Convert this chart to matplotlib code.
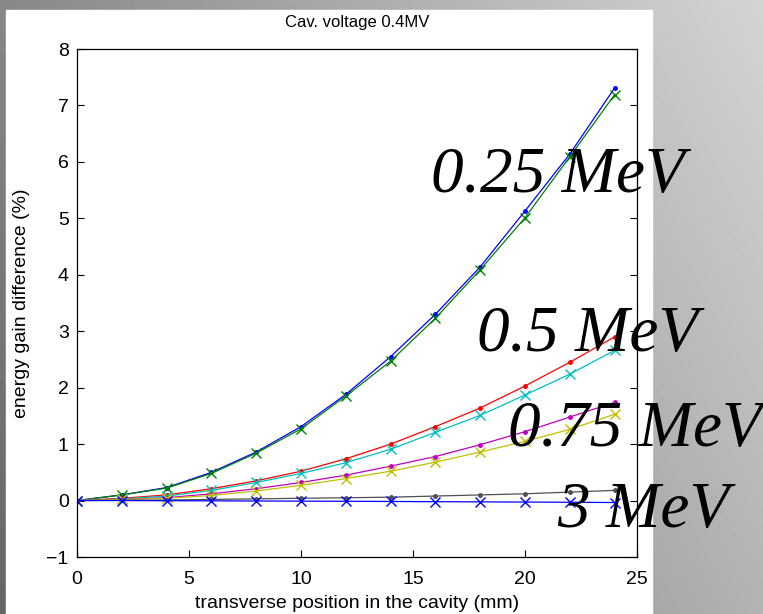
import numpy as np
import matplotlib
matplotlib.use("Agg")
import matplotlib.pyplot as plt

# transverse position (mm)
x_mm = [0, 2, 4, 6, 8, 10, 12, 14, 16, 18, 20, 22, 24]

# energy gain difference (%) per beam energy, two markers each
e025_dot = [0, 0.10, 0.23, 0.50, 0.86, 1.31, 1.88, 2.55, 3.30, 4.14, 5.13, 6.14, 7.31]
e025_x   = [0, 0.10, 0.22, 0.48, 0.84, 1.27, 1.85, 2.47, 3.23, 4.09, 5.01, 6.09, 7.19]
e05_dot  = [0, 0.04, 0.10, 0.21, 0.35, 0.52, 0.74, 1.00, 1.31, 1.64, 2.03, 2.45, 2.90]
e05_x    = [0, 0.03, 0.08, 0.18, 0.32, 0.48, 0.67, 0.91, 1.21, 1.51, 1.87, 2.24, 2.66]
e075_dot = [0, 0.02, 0.05, 0.12, 0.21, 0.32, 0.45, 0.61, 0.78, 0.99, 1.22, 1.48, 1.74]
e075_x   = [0, 0.02, 0.04, 0.09, 0.17, 0.27, 0.39, 0.52, 0.68, 0.86, 1.05, 1.26, 1.53]
e3_dot   = [0, 0.005, 0.01, 0.02, 0.03, 0.04, 0.05, 0.06, 0.08, 0.10, 0.12, 0.15, 0.18]
e3_x     = [0, 0, -0.003, -0.005, -0.008, -0.01, -0.013, -0.016, -0.02, -0.023, -0.027, -0.03, -0.035]

energy_labels = ["0.25 MeV", "0.5 MeV", "0.75 MeV", "3 MeV"]
# label anchor positions in figure pixels (left, baseline)
label_px = [(431, 192), (477, 351), (508, 446), (557, 527)]

W, H = 763, 614
fig = plt.figure(figsize=(W / 100, H / 100), dpi=100)

# slide background: gray gradient with a white panel
bg = fig.add_axes([0, 0, 1, 1], zorder=-10)
gx = np.linspace(0, 1, 200)[None, :]
gy = np.linspace(0, 1, 200)[:, None]
grad = 0.53 + 0.30 * gx - 0.13 * gy
bg.imshow(grad, cmap="gray", vmin=0, vmax=1, aspect="auto",
          extent=[0, W, H, 0])
bg.add_patch(plt.Rectangle((6, 10), 646, 604, color="white"))
bg.set_xlim(0, W)
bg.set_ylim(H, 0)
bg.axis("off")

ax = fig.add_axes([77 / W, 1 - 557 / H, (637 - 77) / W, (557 - 49) / H])
ax.set_facecolor("white")

series = [
    (e025_dot, "#0000ff", "."), (e025_x, "#008000", "x"),
    (e05_dot, "#ff0000", "."), (e05_x, "#00bfbf", "x"),
    (e075_dot, "#bf00bf", "."), (e075_x, "#bfbf00", "x"),
    (e3_dot, "#505050", "."), (e3_x, "#0000ff", "x"),
]
for ys, c, m in series:
    if m == ".":
        ax.plot(x_mm, ys, color=c, lw=0.9, marker=".", ms=5)
    else:
        ax.plot(x_mm, ys, color=c, lw=0.9, marker="x", ms=7, mew=1.0)

ax.set_xlim(0, 25)
ax.set_ylim(-1, 8)
ax.set_xticks([0, 5, 10, 15, 20, 25])
ax.set_yticks(range(-1, 9))
ax.set_yticklabels(["\u22121"] + [str(v) for v in range(0, 9)])
ax.tick_params(direction="in", length=5, labelsize=14, top=False, right=True)
ax.tick_params(axis="x", pad=10)
ax.tick_params(axis="y", pad=6)
for lab in ax.get_xticklabels() + ax.get_yticklabels():
    lab.set_family("Liberation Sans")
for s in ax.spines.values():
    s.set_linewidth(0.9)

ax.set_xlabel("transverse position in the cavity (mm)", fontsize=14,
              family="Liberation Sans", labelpad=5)
ax.set_ylabel("energy gain difference (%)", fontsize=14,
              family="Liberation Sans", labelpad=12)
ax.set_title("Cav. voltage 0.4MV", fontsize=12, family="Liberation Sans",
             pad=16)

for text, (px, py) in zip(energy_labels, label_px):
    fig.text(px / W, 1 - py / H, text, fontsize=47, family="Liberation Serif",
             style="italic", ha="left", va="baseline", color="black")

fig.savefig("out.png", dpi=100)
